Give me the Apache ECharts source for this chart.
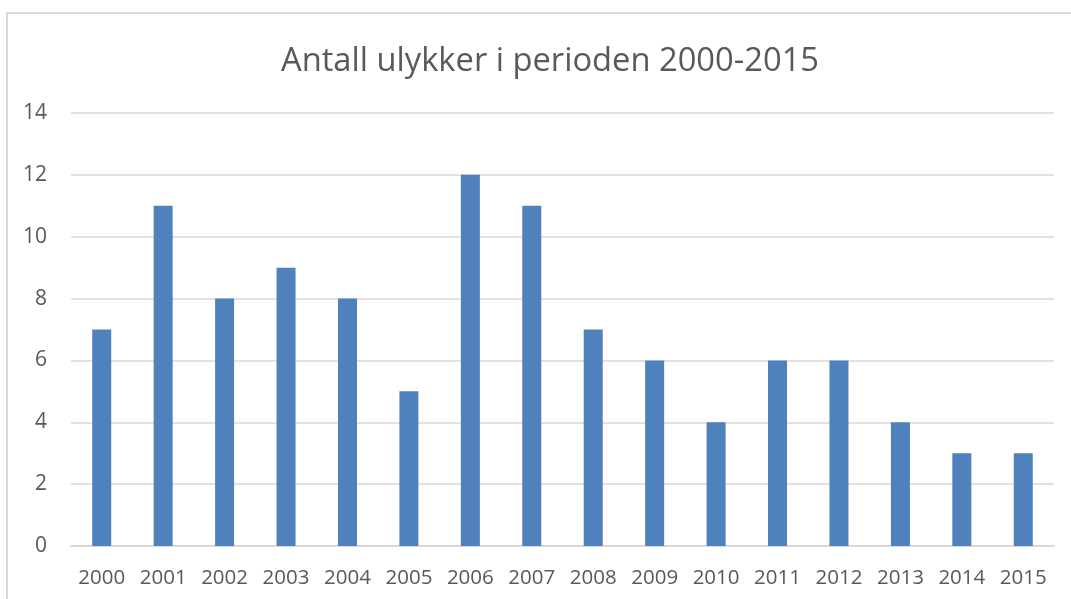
<!DOCTYPE html>
<html>
<head>
<meta charset="utf-8">
<script src="https://cdn.jsdelivr.net/npm/echarts@6/dist/echarts.min.js"></script>
<style>
  html, body { margin: 0; padding: 0; background: #fff; }
  #chart { width: 1071px; height: 599px; }
</style>
</head>
<body>
<div id="chart"></div>
<script>
// data
var years = ['2000', '2001', '2002', '2003', '2004', '2005', '2006', '2007',
             '2008', '2009', '2010', '2011', '2012', '2013', '2014', '2015'];
var ulykker = [7, 11, 8, 9, 8, 5, 12, 11, 7, 6, 4, 6, 6, 4, 3, 3];

var textColor = '#595959';
var fontName = '"Open Sans", "Liberation Sans", sans-serif';

var myChart = echarts.init(document.getElementById('chart'));
var option = {
    animation: false,
    title: {
        text: 'Antall ulykker i perioden 2000-2015',
        left: 545,
        textAlign: 'center',
        top: 40,
        textStyle: {
            color: textColor,
            fontFamily: fontName,
            fontWeight: 'normal',
            fontSize: 32.7
        }
    },
    graphic: [{
        type: 'rect',
        shape: { x: 7, y: 13, width: 1120, height: 700 },
        style: { fill: 'none', stroke: '#d9d9d9', lineWidth: 2 },
        silent: true
    }],
    grid: {
        left: 71,
        right: 17,
        top: 113,
        bottom: 53
    },
    xAxis: {
        type: 'category',
        data: years,
        axisTick: { show: false },
        axisLine: { lineStyle: { color: '#d9d9d9', width: 2 } },
        axisLabel: {
            color: textColor,
            fontFamily: fontName,
            fontSize: 20.5,
            margin: 22
        }
    },
    yAxis: {
        type: 'value',
        min: 0,
        max: 14,
        interval: 2,
        axisLine: { show: false },
        axisTick: { show: false },
        splitLine: { lineStyle: { color: '#d9d9d9', width: 1.5 } },
        axisLabel: {
            color: textColor,
            fontFamily: fontName,
            fontSize: 21,
            margin: 24
        }
    },
    series: [{
        type: 'bar',
        data: ulykker,
        barWidth: 19,
        itemStyle: { color: '#4f81bd' }
    }]
};
myChart.setOption(option);
</script>
</body>
</html>
